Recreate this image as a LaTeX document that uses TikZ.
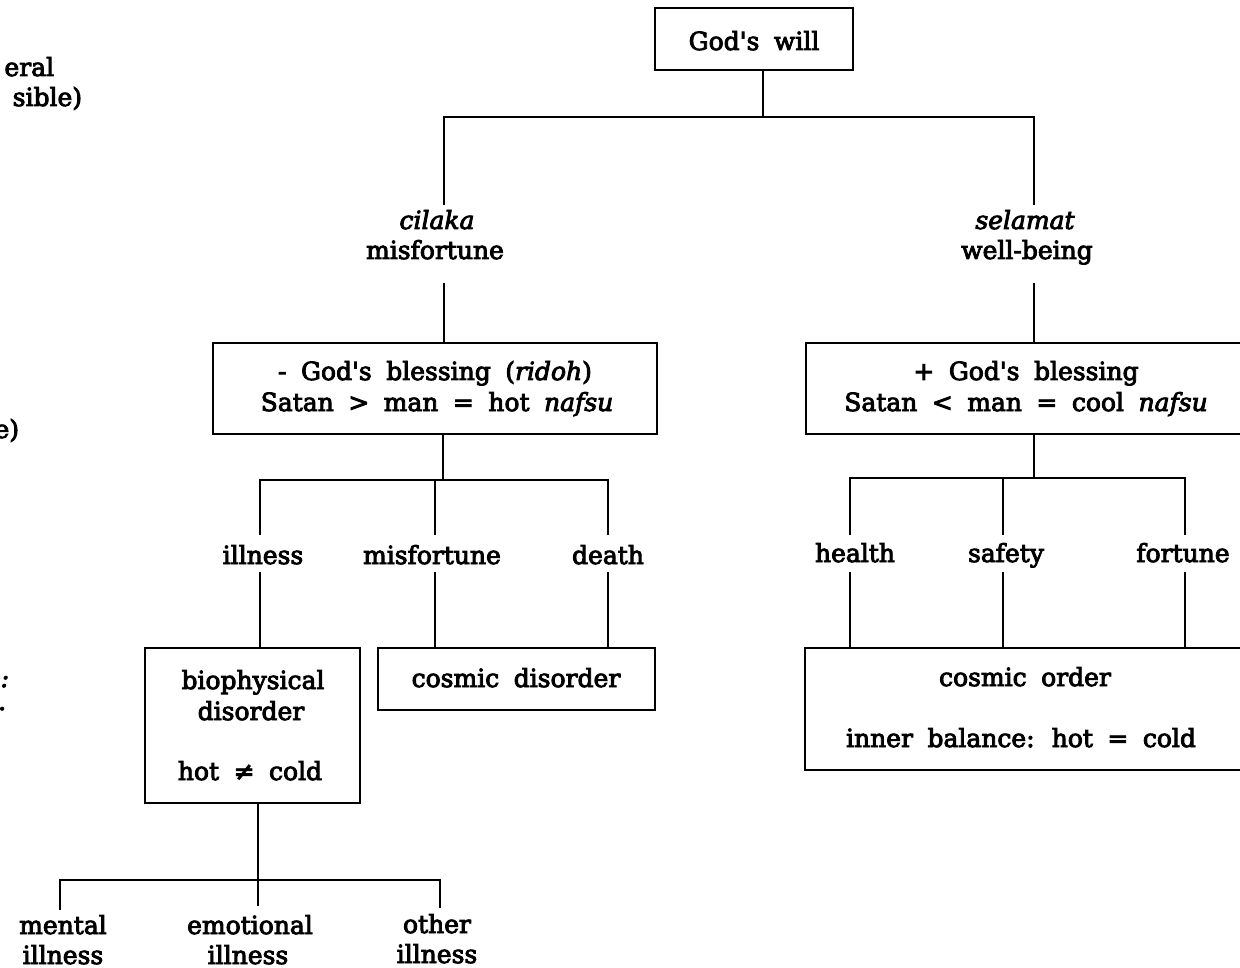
\documentclass[tikz,border=0pt]{standalone}
\usepackage{fontspec}
\setmainfont{DejaVu Serif}[FakeBold=3.5]
\newcommand\tfont{\fontsize{25}{30}\selectfont\spaceskip=0.58em plus 0.1em\relax}
\newcommand\apo{\textquotesingle}
\begin{document}
\begin{tikzpicture}[x=1pt,y=-1pt,line width=1.8pt,
  box/.style={draw,line width=1.8pt,inner sep=0pt},
  txt/.style={inner sep=0pt,anchor=base,font=\tfont},
  frag/.style={inner sep=0pt,anchor=base east,font=\tfont}]
\useasboundingbox (0,0) rectangle (1240,968);
\begin{scope}
\clip (0,0) rectangle (1240,968);
% left margin fragments
\node[frag] (f1) at (55,76) {eral};
\node[frag] (f2) at (83,106) {sible)};
\node[frag] (f3) at (20,438) {e)};
\node[frag] (f4) at (10,687) {\itshape :};
\node[frag] (f5) at (7,710) {.};
% boxes
\node[box,minimum width=198pt,minimum height=62pt] (god) at (754,39) {};
\node[box,minimum width=444pt,minimum height=91pt] (lbox) at (435,388.5) {};
\node[box,minimum width=444pt,minimum height=91pt] (rbox) at (1028,388.5) {};
\node[box,minimum width=215pt,minimum height=155pt] (bio) at (252.5,725.5) {};
\node[box,minimum width=277pt,minimum height=62pt] (cd) at (516.5,679) {};
\node[box,minimum width=445pt,minimum height=122pt] (co) at (1027.5,709) {};
% texts
\node[txt] (godt) at (754,50) {God\apo s will};
\node[txt] (cil) at (437,229) {\itshape cilaka};
\node[txt] (mis) at (435,259) {misfortune};
\node[txt] (sel) at (1025,229) {\itshape selamat};
\node[txt] (wb) at (1027,259) {well-being};
\node[txt] (l1) at (435,380) {- God\apo s blessing (\textit{ridoh})};
\node[txt] (l2) at (437,411) {Satan > man = hot \textit{nafsu}};
\node[txt] (r1) at (1026,380) {+ God\apo s blessing};
\node[txt] (r2) at (1026,411) {Satan < man = cool \textit{nafsu}};
\node[txt] (ill) at (263,564) {illness};
\node[txt] (mf) at (432,564) {misfortune};
\node[txt] (de) at (608,564) {death};
\node[txt] (he) at (855,562) {health};
\node[txt] (sa) at (1006,562) {safety};
\node[txt] (fo) at (1183,562) {fortune};
\node[txt] (b1) at (253,689) {biophysical};
\node[txt] (b2) at (251,720) {disorder};
\node[txt] (b3) at (250,780) {hot ≠ cold};
\node[txt] (cdt) at (516,687) {cosmic disorder};
\node[txt] (co1) at (1025,686) {cosmic order};
\node[txt] (co2) at (1021,747) {inner balance:  hot = cold};
\node[txt] (me1) at (63,934) {mental};
\node[txt] (me2) at (63,964) {illness};
\node[txt] (em1) at (250,934) {emotional};
\node[txt] (em2) at (248,964) {illness};
\node[txt] (ot1) at (437,933) {other};
\node[txt] (ot2) at (437,963) {illness};
% connectors
\coordinate (j1) at (763,117);
\coordinate (cT) at (444,205);
\coordinate (sT) at (1034,205);
\draw (god.south -| j1) -- (j1);
\draw (cT) |- (j1) -| (sT);
\coordinate (cB) at (444,283);
\coordinate (sB) at (1034,283);
\draw (cB) -- (cB |- lbox.north);
\draw (sB) -- (sB |- rbox.north);
\coordinate (j2) at (443,480);
\draw (lbox.south -| j2) -- (j2);
\coordinate (ilT) at (260,535);
\coordinate (mfT) at (435,535);
\coordinate (deT) at (608,535);
\draw (ilT) |- (j2) -| (deT);
\draw (mfT) -- (mfT |- j2);
\coordinate (ilB) at (260,572);
\coordinate (mfB) at (435,572);
\coordinate (deB) at (608,572);
\draw (ilB) -- (ilB |- bio.north);
\draw (mfB) -- (mfB |- cd.north);
\draw (deB) -- (deB |- cd.north);
\coordinate (j3) at (258,880);
\draw (bio.south -| j3) -- (j3);
\coordinate (meT) at (60,910);
\coordinate (emT) at (258,906);
\coordinate (otT) at (440,908);
\draw (meT) |- (j3) -| (otT);
\draw (j3) -- (emT);
\coordinate (j4) at (1034,478);
\draw (rbox.south -| j4) -- (j4);
\coordinate (heT) at (850,535);
\coordinate (saT) at (1003,535);
\coordinate (foT) at (1185,535);
\draw (heT) |- (j4) -| (foT);
\draw (saT) -- (saT |- j4);
\coordinate (heB) at (850,572);
\coordinate (saB) at (1003,572);
\coordinate (foB) at (1185,572);
\draw (heB) -- (heB |- co.north);
\draw (saB) -- (saB |- co.north);
\draw (foB) -- (foB |- co.north);
\end{scope}
\end{tikzpicture}
\end{document}
